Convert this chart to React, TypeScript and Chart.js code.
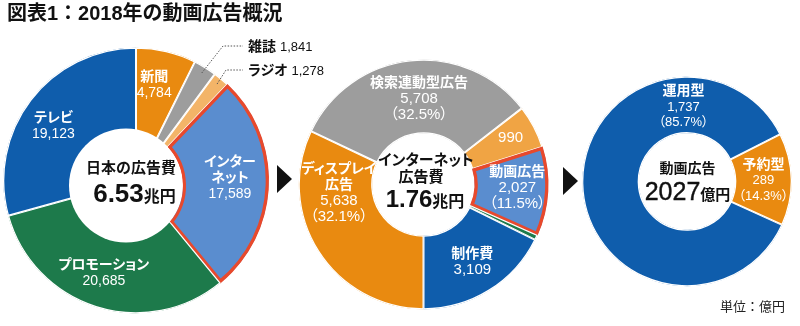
import React, { useEffect, useRef, useState } from "react";
import { Chart, registerables } from "chart.js";

Chart.register(...registerables);

// ---------------- data ----------------
const titleText = "図表1：2018年の動画広告概況";
const unitText = "単位：億円";

// Chart 1: 日本の広告費 (億円)
const adCategories = ["新聞", "雑誌", "ラジオ", "インターネット", "プロモーション", "テレビ"];
const adDisplayNames = ["新聞", "雑誌", "ラジオ", "インター\nネット", "プロモーション", "テレビ"];
const adValues = [4784, 1841, 1278, 17589, 20685, 19123];
const adLabelModes = ["value", "callout", "callout", "value", "value", "value"];

// Chart 2: インターネット広告費 (億円)
const netCategories = ["ディスプレイ広告", "検索連動型広告", "成果報酬型広告", "動画広告", "その他", "制作費"];
const netDisplayNames = ["ディスプレイ\n広告", "検索連動型広告", "", "動画広告", "", "制作費"];
const netValues = [5638, 5708, 990, 2027, 117, 3109];
const netLabelModes = ["pct", "pct", "valueOnly", "pct", "none", "value"];

// Chart 3: 動画広告 (億円)
const videoCategories = ["運用型", "予約型"];
const videoDisplayNames = ["運用型", "予約型"];
const videoValues = [1737, 289];
const videoLabelModes = ["pct", "pct"];

// ---------------- styles / layout ----------------
const W = 800;
const H = 326;
const FONT = '"Liberation Sans", "Noto Sans CJK JP", sans-serif';

const ORANGE = "#E98A10";
const GRAY = "#9D9D9D";
const LIGHT_ORANGE = "#F3B468";
const MID_ORANGE = "#F0A444";
const NET_BLUE = "#5A8DCF";
const DARK_BLUE = "#0F5DAC";
const GREEN = "#1D7A4B";
const RED = "#E8492C";

const adColors = [ORANGE, GRAY, LIGHT_ORANGE, NET_BLUE, GREEN, DARK_BLUE];
const netColors = [ORANGE, GRAY, MID_ORANGE, NET_BLUE, GREEN, DARK_BLUE];
const videoColors = [DARK_BLUE, ORANGE];

const adHighlight = 3;
const netHighlight = 3;

const adLabelOffsets = [[-3.5, -4.5], [0, 0], [0, 0], [-1, -7], [-3.5, 0.5], [-7, 2]];
const netLabelOffsets = [[-11, -39], [5, 0], [10, -7], [7, -2], [0, 0], [3, 3]];
const videoLabelOffsets = [[73, -77], [0, 0]];

const adCallouts = [
  { index: 1, tx: 248, ty: 46, ex: 223 },
  { index: 2, tx: 248, ty: 70, ex: 226 },
];

type Line = { text: string; bold: boolean; size: number };
type LabelItem = { lines: Line[]; dx: number; dy: number; lh: number } | null;
type Callout = { index: number; tx: number; ty: number; ex: number; name: string; value: number };
type Pt = { x: number; y: number } | null;
type Hole = { x: number; y: number; r: number; highlight: number };

const fmt = (v: number) => v.toLocaleString("en-US");
const sum = (a: number[]) => a.reduce((s, v) => s + v, 0);

function buildLabels(
  names: string[],
  values: number[],
  modes: string[],
  offsets: number[][],
  nameSize: number,
  numSize: number,
  lh: number
): LabelItem[] {
  const total = sum(values);
  return values.map((v, i) => {
    const mode = modes[i];
    if (mode === "none" || mode === "callout") return null;
    const lines: Line[] = [];
    if (mode !== "valueOnly") {
      names[i].split("\n").forEach((t) => lines.push({ text: t, bold: true, size: nameSize }));
    }
    lines.push({ text: fmt(v), bold: false, size: numSize });
    if (mode === "pct") {
      lines.push({ text: `（${((v / total) * 100).toFixed(1)}%）`, bold: false, size: numSize });
    }
    return { lines, dx: offsets[i][0], dy: offsets[i][1], lh };
  });
}

const chart1Labels = buildLabels(adDisplayNames, adValues, adLabelModes, adLabelOffsets, 14, 14, 16);
const chart2Labels = buildLabels(netDisplayNames, netValues, netLabelModes, netLabelOffsets, 14, 15, 16);
const chart3Labels = buildLabels(videoDisplayNames, videoValues, videoLabelModes, videoLabelOffsets, 14, 13, 15.5);
const chart1Callouts: Callout[] = adCallouts.map((c) => ({ ...c, name: adDisplayNames[c.index], value: adValues[c.index] }));

function makeDecorPlugin(callouts: Callout[], hole: Hole | null) {
  return {
    id: "decor",
    afterDatasetsDraw(chart: any) {
      const ctx: CanvasRenderingContext2D = chart.ctx;
      const meta = chart.getDatasetMeta(0);
      if (hole) {
        ctx.save();
        ctx.fillStyle = "#ffffff";
        ctx.beginPath();
        ctx.arc(hole.x, hole.y, hole.r, 0, Math.PI * 2);
        ctx.fill();
        const el = meta.data[hole.highlight];
        if (el) {
          const a = el.getProps(["x", "y", "startAngle", "endAngle"], true);
          const hit = (th: number) => {
            const ux = Math.cos(th);
            const uy = Math.sin(th);
            const dx = a.x - hole.x;
            const dy = a.y - hole.y;
            const b = ux * dx + uy * dy;
            const t = -b + Math.sqrt(b * b - (dx * dx + dy * dy) + hole.r * hole.r);
            return Math.atan2(a.y + t * uy - hole.y, a.x + t * ux - hole.x);
          };
          ctx.strokeStyle = RED;
          ctx.lineWidth = 3;
          ctx.beginPath();
          ctx.arc(hole.x, hole.y, hole.r + 1.5, hit(a.startAngle), hit(a.endAngle), false);
          ctx.stroke();
        }
        ctx.restore();
      }
      callouts.forEach((c) => {
        const el = meta.data[c.index];
        if (!el) return;
        const arc = el.getProps(["x", "y", "startAngle", "endAngle", "outerRadius"], true);
        const mid = (arc.startAngle + arc.endAngle) / 2;
        const r = arc.outerRadius - 7;
        ctx.save();
        ctx.strokeStyle = "#555";
        ctx.lineWidth = 1;
        ctx.setLineDash([1.5, 1.5]);
        ctx.beginPath();
        ctx.moveTo(arc.x + r * Math.cos(mid), arc.y + r * Math.sin(mid));
        ctx.lineTo(c.ex, c.ty);
        ctx.lineTo(c.tx - 5, c.ty);
        ctx.stroke();
        ctx.restore();
      });
    },
  };
}

function doughnutConfig(o: {
  categories: string[];
  values: number[];
  colors: string[];
  highlight: number;
  cx: number;
  cy: number;
  r: number;
  inner: number;
  rotation: number;
  callouts?: Callout[];
  hole?: Hole | null;
}): any {
  const R0 = Math.min(o.cx, W - o.cx, o.cy, H - o.cy);
  const borderColors = o.values.map((_, i) => (i === o.highlight ? RED : "#ffffff"));
  const borderWidths = o.values.map((_, i) => (i === o.highlight ? 3 : 1));
  return {
    type: "doughnut",
    data: {
      labels: o.categories,
      datasets: [
        {
          data: o.values,
          backgroundColor: o.colors,
          borderColor: borderColors,
          borderWidth: borderWidths,
          borderAlign: "inner",
          hoverOffset: 0,
        },
      ],
    },
    options: {
      responsive: false,
      animation: false,
      events: [],
      radius: o.r,
      cutout: `${(o.inner / o.r) * 100}%`,
      rotation: o.rotation,
      layout: {
        padding: { left: o.cx - R0, right: W - o.cx - R0, top: o.cy - R0, bottom: H - o.cy - R0 },
      },
      plugins: {
        legend: { display: false },
        tooltip: { enabled: false },
      },
    },
    plugins: [makeDecorPlugin(o.callouts || [], o.hole || null)],
  };
}

const PALT: React.CSSProperties = { fontFeatureSettings: '"palt"' };

const centerBase: React.CSSProperties = {
  position: "absolute",
  transform: "translate(-50%, -50%)",
  whiteSpace: "nowrap",
  fontWeight: 700,
  color: "#111",
  lineHeight: 1,
  textAlign: "center",
  ...PALT,
};

// label anchor: the arc's middle angle, at a given distance from the ring centre
function anchors(chart: Chart, items: LabelItem[], labelR: number): Pt[] {
  const meta = chart.getDatasetMeta(0);
  return items.map((it, i) => {
    const el = meta.data[i] as any;
    if (!it || !el) return null;
    const a = el.getProps(["x", "y", "startAngle", "endAngle"], true);
    const mid = (a.startAngle + a.endAngle) / 2;
    return { x: a.x + labelR * Math.cos(mid), y: a.y + labelR * Math.sin(mid) };
  });
}

function SegLabels({ items, pts }: { items: LabelItem[]; pts: Pt[] }) {
  return (
    <>
      {items.map((it, i) => {
        const p = pts[i];
        if (!it || !p) return null;
        return (
          <div
            key={i}
            style={{
              position: "absolute",
              left: p.x + it.dx,
              top: p.y + it.dy,
              transform: "translate(-50%, -50%)",
              color: "#fff",
              textAlign: "center",
              whiteSpace: "nowrap",
              ...PALT,
            }}
          >
            {it.lines.map((ln, j) => (
              <div key={j} style={{ fontSize: ln.size, fontWeight: ln.bold ? 700 : 400, lineHeight: `${it.lh}px`, height: it.lh }}>
                {ln.text}
              </div>
            ))}
          </div>
        );
      })}
    </>
  );
}

export default function App() {
  const c1 = useRef<HTMLCanvasElement>(null);
  const c2 = useRef<HTMLCanvasElement>(null);
  const c3 = useRef<HTMLCanvasElement>(null);
  const [pts, setPts] = useState<Pt[][]>([[], [], []]);

  useEffect(() => {
    document.body.style.margin = "0";
    const ch1 = new Chart(
      c1.current as HTMLCanvasElement,
      doughnutConfig({
        categories: adCategories,
        values: adValues,
        colors: adColors,
        highlight: adHighlight,
        cx: 136,
        cy: 180.5,
        r: 133,
        inner: 44,
        rotation: 0,
        callouts: chart1Callouts,
        hole: { x: 126, y: 185.5, r: 57, highlight: adHighlight },
      })
    );
    const ch2 = new Chart(
      c2.current as HTMLCanvasElement,
      doughnutConfig({
        categories: netCategories,
        values: netValues,
        colors: netColors,
        highlight: netHighlight,
        cx: 423.5,
        cy: 184.5,
        r: 125,
        inner: 51,
        rotation: 180,
      })
    );
    const ch3 = new Chart(
      c3.current as HTMLCanvasElement,
      doughnutConfig({
        categories: videoCategories,
        values: videoValues,
        colors: videoColors,
        highlight: -1,
        cx: 687,
        cy: 181.5,
        r: 105,
        inner: 48,
        rotation: 114.5,
      })
    );
    setPts([anchors(ch1, chart1Labels, 95), anchors(ch2, chart2Labels, 87), anchors(ch3, chart3Labels, 76.5)]);
    return () => {
      ch1.destroy();
      ch2.destroy();
      ch3.destroy();
    };
  }, []);

  const adTotal = (sum(adValues) / 10000).toFixed(2);
  const netTotal = (sum(netValues) / 10000).toFixed(2);
  const videoTotal = netValues[netHighlight];

  const canvasStyle: React.CSSProperties = { position: "absolute", left: 0, top: 0 };
  const tri = (left: number, top: number): React.CSSProperties => ({
    position: "absolute",
    left,
    top,
    width: 0,
    height: 0,
    borderTop: "14px solid transparent",
    borderBottom: "14px solid transparent",
    borderLeft: "15px solid #111",
  });

  return (
    <div style={{ position: "relative", width: W, height: H, background: "#fff", overflow: "hidden", fontFamily: FONT }}>
      <canvas ref={c1} width={W} height={H} style={canvasStyle} />
      <canvas ref={c2} width={W} height={H} style={canvasStyle} />
      <canvas ref={c3} width={W} height={H} style={canvasStyle} />

      <SegLabels items={chart1Labels} pts={pts[0]} />
      <SegLabels items={chart2Labels} pts={pts[1]} />
      <SegLabels items={chart3Labels} pts={pts[2]} />

      {chart1Callouts.map((c) => (
        <div
          key={c.index}
          style={{ position: "absolute", left: c.tx, top: c.ty, transform: "translateY(-50%)", whiteSpace: "nowrap", color: "#111", lineHeight: "16px", ...PALT }}
        >
          <span style={{ fontSize: 14, fontWeight: 700 }}>{c.name}</span>
          <span style={{ fontSize: 13, marginLeft: 4 }}>{fmt(c.value)}</span>
        </div>
      ))}

      <div style={{ position: "absolute", left: 7, top: 2, fontSize: 20, fontWeight: 700, color: "#111", lineHeight: "22px", whiteSpace: "nowrap" }}>
        {titleText}
      </div>

      <div style={tri(277, 165)} />
      <div style={tri(563, 167)} />

      <div style={{ ...centerBase, left: 131, top: 167, fontSize: 15 }}>日本の広告費</div>
      <div style={{ ...centerBase, left: 134.5, top: 193 }}>
        <span style={{ fontSize: 26 }}>{adTotal}</span>
        <span style={{ fontSize: 16 }}>兆円</span>
      </div>

      <div style={{ ...centerBase, left: 426, top: 159, fontSize: 15 }}>インターネット</div>
      <div style={{ ...centerBase, left: 421, top: 175.5, fontSize: 15 }}>広告費</div>
      <div style={{ ...centerBase, left: 425, top: 199 }}>
        <span style={{ fontSize: 24 }}>{netTotal}</span>
        <span style={{ fontSize: 16 }}>兆円</span>
      </div>

      <div style={{ ...centerBase, left: 687.5, top: 167.5, fontSize: 14 }}>動画広告</div>
      <div style={{ ...centerBase, left: 687.5, top: 191 }}>
        <span style={{ fontSize: 25, fontWeight: 400, WebkitTextStroke: "0.4px #111" }}>{videoTotal}</span>
        <span style={{ fontSize: 15 }}>億円</span>
      </div>

      <div style={{ position: "absolute", left: 720, top: 299, fontSize: 13, color: "#222", lineHeight: "16px", whiteSpace: "nowrap" }}>
        {unitText}
      </div>
    </div>
  );
}
